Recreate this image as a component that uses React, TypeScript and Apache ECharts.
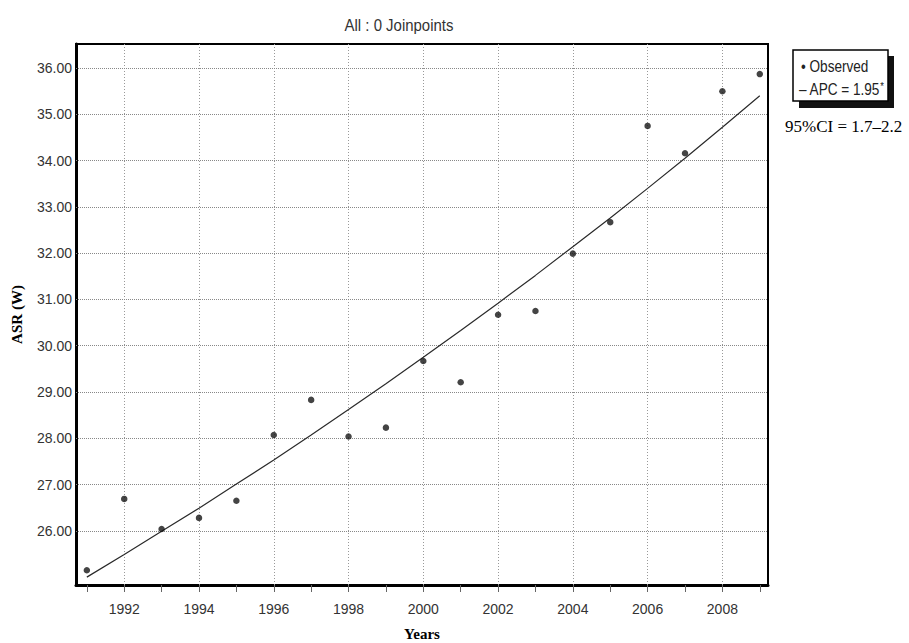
import React, { useEffect, useRef } from "react";
import * as echarts from "echarts";

const years = [1991, 1992, 1993, 1994, 1995, 1996, 1997, 1998, 1999, 2000, 2001, 2002, 2003, 2004, 2005, 2006, 2007, 2008, 2009];
const observed = [25.15, 26.69, 26.04, 26.28, 26.65, 28.07, 28.83, 28.04, 28.23, 29.67, 29.21, 30.67, 30.75, 31.99, 32.67, 34.75, 34.16, 35.5, 35.87];
const fitted = [25.0, 25.49, 25.99, 26.49, 27.01, 27.53, 28.07, 28.62, 29.18, 29.75, 30.33, 30.92, 31.52, 32.14, 32.76, 33.4, 34.05, 34.72, 35.4];
const xLabelYears = [1992, 1994, 1996, 1998, 2000, 2002, 2004, 2006, 2008];
const yTickValues = [26, 27, 28, 29, 30, 31, 32, 33, 34, 35, 36];

const SANS = "'Liberation Sans', Arial, sans-serif";
const SERIF = "'Liberation Serif', 'Times New Roman', serif";

export default function App() {
  const ref = useRef<HTMLDivElement>(null);
  useEffect(() => {
    if (!ref.current) return;
    const chart = echarts.init(ref.current, undefined, { renderer: "svg" });
    const option: any = {
      animation: false,
      backgroundColor: "transparent",
      grid: {
        left: 76,
        top: 44,
        right: 141,
        bottom: 58,
        outerBoundsMode: "none",
        containLabel: false,
        show: true,
        borderColor: "#000",
        borderWidth: 2,
        backgroundColor: "#fff",
      },
      xAxis: {
        type: "value",
        min: 1990.71,
        max: 2009.22,
        name: "Years",
        nameLocation: "middle",
        nameGap: 41,
        nameTextStyle: { fontFamily: SERIF, fontSize: 15, fontWeight: "bold", color: "#000" },
        axisLine: { show: true, onZero: false, lineStyle: { color: "#000", width: 3 } },
        axisTick: { show: true, length: 7, customValues: years, lineStyle: { color: "#666", width: 1 } },
        axisLabel: {
          customValues: xLabelYears,
          margin: 17,
          fontFamily: SANS,
          fontSize: 14,
          color: "#333",
          formatter: (v: number) => String(Math.round(v)),
        },
        splitLine: { show: false },
      },
      yAxis: {
        type: "value",
        min: 24.83,
        max: 36.52,
        name: "ASR (W)",
        nameLocation: "middle",
        nameGap: 52,
        nameTextStyle: { fontFamily: SERIF, fontSize: 15, fontWeight: "bold", color: "#000" },
        axisLine: { show: true, lineStyle: { color: "#000", width: 3 } },
        axisTick: { show: false, customValues: yTickValues },
        axisLabel: {
          customValues: yTickValues,
          margin: 4,
          fontFamily: SANS,
          fontSize: 14,
          color: "#333",
          formatter: (v: number) => v.toFixed(2),
        },
        splitLine: { show: false },
      },
      series: [
        {
          type: "line",
          data: [],
          silent: true,
          markLine: {
            silent: true,
            z: 1,
            symbol: "none",
            label: { show: false },
            lineStyle: { type: [1, 2], color: "#999", width: 1 },
            data: [
              ...xLabelYears.map((y) => ({ xAxis: y })),
              ...yTickValues.map((v) => ({ yAxis: v, lineStyle: { type: [1, 1], color: "#888", width: 1 } })),
            ],
          },
        },
        {
          name: "APC = 1.95*",
          type: "line",
          z: 3,
          data: years.map((y, i) => [y, fitted[i]]),
          showSymbol: false,
          symbol: "none",
          lineStyle: { color: "#2a2a2a", width: 1.2 },
        },
        {
          name: "Observed",
          type: "scatter",
          z: 4,
          data: years.map((y, i) => [y, observed[i]]),
          symbol: "circle",
          symbolSize: 6.5,
          itemStyle: { color: "#151515" },
        },
      ],
      graphic: {
        elements: [
          {
            type: "text",
            id: "title",
            x: 399,
            y: 25,
            scaleX: 0.88,
            style: {
              text: "All : 0 Joinpoints",
              fontFamily: SANS,
              fontSize: 17,
              fill: "#333",
              align: "center",
              verticalAlign: "middle",
            },
          },
          {
            type: "rect",
            id: "legendBox",
            shape: { x: 793, y: 50, width: 95, height: 51 },
            style: { fill: "#fff", stroke: "#000", lineWidth: 1.5 },
          },
          {
            type: "text",
            id: "legObs",
            x: 801,
            y: 67,
            scaleX: 0.85,
            style: { text: "• Observed", fontFamily: SANS, fontSize: 16, fill: "#222", verticalAlign: "middle" },
          },
          {
            type: "text",
            id: "legApc",
            x: 799,
            y: 90,
            scaleX: 0.85,
            style: {
              text: "{a|– APC = 1.95}{s|*}",
              verticalAlign: "middle",
              rich: {
                a: { fontFamily: SANS, fontSize: 16, fill: "#222" },
                s: { fontFamily: SANS, fontSize: 11, fill: "#222", verticalAlign: "top", padding: [0, 0, 7, 0] },
              },
            },
          },
          {
            type: "text",
            id: "ci",
            x: 785,
            y: 126,
            style: { text: "95%CI = 1.7–2.2", fontFamily: SERIF, fontSize: 17, fill: "#000", verticalAlign: "middle" },
          },
        ],
      },
    };
    chart.setOption(option);
    return () => chart.dispose();
  }, []);
  return (
    <div style={{ position: "absolute", left: 0, top: 0, width: 909, height: 643, background: "#fff" }}>
      <div
        style={{ position: "absolute", left: 799, top: 56, width: 95, height: 52, background: "#111", zIndex: 0 }}
      />
      <div
        ref={ref}
        style={{ position: "absolute", left: 0, top: 0, width: 909, height: 643, zIndex: 1 }}
      />
    </div>
  );
}
